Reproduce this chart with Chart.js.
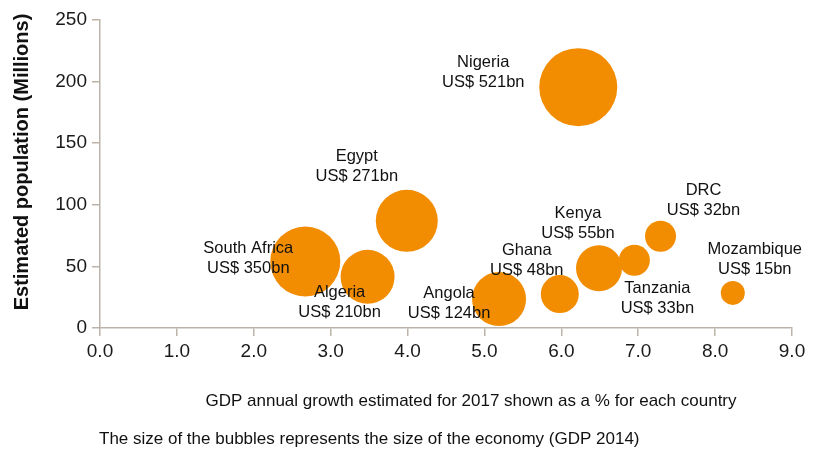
<!DOCTYPE html>
<html>
<head>
<meta charset="utf-8">
<script src="https://cdn.jsdelivr.net/npm/chart.js@4"></script>
<style>
  html, body { margin: 0; padding: 0; background: #fff; }
  #wrap { width: 815px; height: 455px; position: relative; }
</style>
</head>
<body>
<div id="wrap"><canvas id="bubbles"></canvas></div>
<script>
// --- DONNÉES ---
const countries = ['Nigeria', 'Egypt', 'South Africa', 'Algeria', 'Angola', 'Ghana', 'Kenya', 'Tanzania', 'DRC', 'Mozambique'];
const gdpLabels = ['US$ 521bn', 'US$ 271bn', 'US$ 350bn', 'US$ 210bn', 'US$ 124bn', 'US$ 48bn', 'US$ 55bn', 'US$ 33bn', 'US$ 32bn', 'US$ 15bn'];
const growth = [6.22, 3.99, 2.67, 3.48, 5.19, 5.98, 6.49, 6.95, 7.29, 8.23];       // x
const population = [195.5, 87, 54, 41.5, 23.5, 27.5, 48.5, 55, 74.5, 28.5];        // y
const bubbleSize = [39, 31, 35, 27, 27, 19, 23, 15.5, 15.5, 12];                  // rayon
const xTicks = [0, 1, 2, 3, 4, 5, 6, 7, 8, 9];
const yTicks = [0, 50, 100, 150, 200, 250];

// décalage des étiquettes par rapport au centre de la bulle (px)
const labelShift = [[-95, -25], [-50, -64], [-57, -13], [-28, 16], [-50, -6], [-33, -44], [-21, -55], [23, 28], [43, -46], [22, -43]];

const ORANGE = '#F28C00';
const AXIS = '#bcb3ab';
const FONT = "'Liberation Sans', Arial, Helvetica, sans-serif";

const points = growth.map((x, i) => ({ x, y: population[i], r: bubbleSize[i] }));

// étiquettes + titres en texte
const textPlugin = {
  id: 'texts',
  afterDatasetsDraw(chart) {
    const c = chart.ctx;
    const meta = chart.getDatasetMeta(0);
    c.save();
    c.fillStyle = '#111';
    c.font = '16.5px ' + FONT;
    c.textAlign = 'center';
    c.textBaseline = 'middle';
    meta.data.forEach((el, i) => {
      const [dx, dy] = labelShift[i];
      c.fillText(countries[i], el.x + dx, el.y + dy);
      c.fillText(gdpLabels[i], el.x + dx, el.y + dy + 20);
    });
    // titre axe Y
    c.save();
    c.translate(22, 162);
    c.rotate(-Math.PI / 2);
    c.font = 'bold 20px ' + FONT;
    c.fillText('Estimated population (Millions)', 0, 0);
    c.restore();
    // textes du bas
    c.font = '17px ' + FONT;
    c.fillText('GDP annual growth estimated for 2017 shown as a % for each country', 471, 401);
    c.textAlign = 'left';
    c.fillText('The size of the bubbles represents the size of the economy (GDP 2014)', 99, 439);
    c.restore();
  }
};

new Chart(document.getElementById('bubbles'), {
  type: 'bubble',
  data: {
    datasets: [{
      data: points,
      backgroundColor: ORANGE,
      borderColor: ORANGE,
      borderWidth: 0,
      hoverRadius: 0,
      clip: false
    }]
  },
  options: {
    responsive: true,
    maintainAspectRatio: false,
    animation: false,
    events: [],
    layout: { autoPadding: false, padding: { top: 20, right: 23, left: 0, bottom: 0 } },
    plugins: { legend: { display: false }, tooltip: { enabled: false } },
    scales: {
      x: {
        type: 'linear', min: 0, max: 9,
        afterBuildTicks: s => { s.ticks = xTicks.map(v => ({ value: v })); },
        afterFit: s => { s.height = 127; },
        grid: { drawOnChartArea: false, drawTicks: true, tickLength: 8, color: AXIS, lineWidth: 1.5 },
        border: { display: true, color: AXIS, width: 1.5 },
        ticks: { color: '#1a1a1a', padding: 4, maxRotation: 0, font: { size: 19, family: FONT }, callback: v => v.toFixed(1) }
      },
      y: {
        type: 'linear', min: 0, max: 250,
        afterBuildTicks: s => { s.ticks = yTicks.map(v => ({ value: v })); },
        afterFit: s => { s.width = 100; },
        grid: { drawOnChartArea: false, drawTicks: true, tickLength: 8, color: AXIS, lineWidth: 1.5 },
        border: { display: true, color: AXIS, width: 1.5 },
        ticks: { color: '#1a1a1a', padding: 5, font: { size: 19, family: FONT } }
      }
    }
  },
  plugins: [textPlugin]
});
</script>
</body>
</html>
